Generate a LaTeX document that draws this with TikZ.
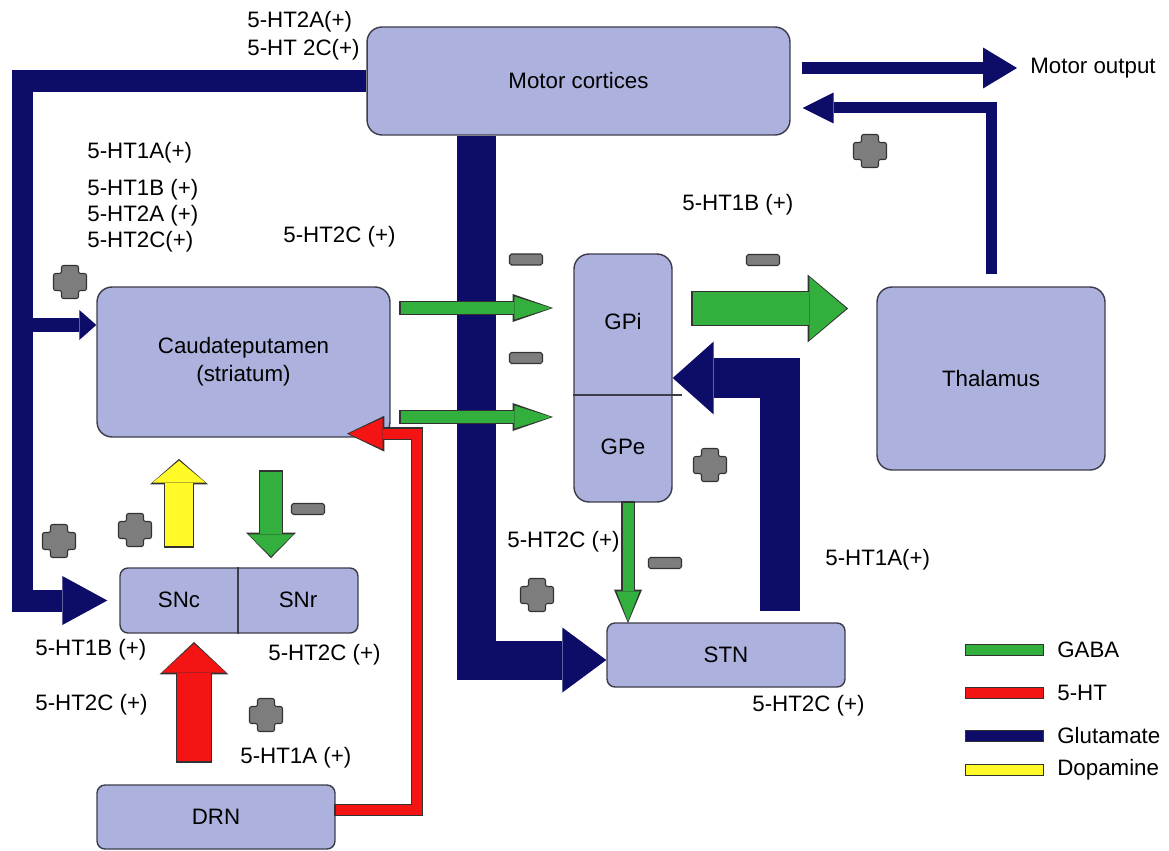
\documentclass[tikz,border=0pt]{standalone}
\usepackage{fontspec}
\setmainfont{Liberation Sans}
\usetikzlibrary{arrows.meta,calc}
\definecolor{boxfill}{RGB}{172,178,221}
\definecolor{boxline}{RGB}{60,60,75}
\definecolor{outl}{RGB}{50,50,50}
\definecolor{glu}{RGB}{13,13,105}
\definecolor{gaba}{RGB}{50,175,60}
\definecolor{sero}{RGB}{245,20,20}
\definecolor{dopa}{RGB}{255,250,40}
\definecolor{sgray}{RGB}{125,125,125}
\newcommand{\fatarrow}[7]{%
 \pgfmathsetmacro\faW{#2+0.05}%
 \pgfmathsetmacro\faL{#3+0.07}%
 \pgfmathsetmacro\faT{#4+0.1}%
 \pgfmathsetmacro\faS{#5-0.025}%
 \pgfmathsetmacro\faE{#6-0.035}%
 \draw[line width=\faW cm, draw=outl, -{Triangle[length=\faL cm, width=\faT cm, line width=0pt]}, shorten <=\faS cm, shorten >=\faE cm] #7;
 \draw[line width=#2cm, draw=#1, -{Triangle[length=#3cm, width=#4cm, line width=0pt]}, shorten <=#5cm, shorten >=#6cm] #7;
}
\tikzset{
 box/.style={draw=boxline, fill=boxfill, rounded corners=0.3cm, line width=0.8pt, inner sep=0pt, align=center},
 smallbox/.style={box, rounded corners=0.16cm, minimum width=4.76cm, minimum height=1.28cm},
 lbl/.style={anchor=west, inner sep=0pt},
 minus/.style={draw=outl, fill=sgray, line width=0.6pt, rounded corners=1pt, minimum width=0.66cm, minimum height=0.22cm, inner sep=0pt},
 legbar/.style={draw=outl, line width=0.5pt, minimum width=1.56cm, minimum height=0.22cm, inner sep=0pt},
 plussign/.pic={\filldraw[fill=sgray, draw=outl, line width=0.6pt, rounded corners=1.2pt]
   (-8.5,-16.5) -- (8.5,-16.5) -- (8.5,-8.5) -- (16.5,-8.5) -- (16.5,8.5) -- (8.5,8.5) -- (8.5,16.5) -- (-8.5,16.5) -- (-8.5,8.5) -- (-16.5,8.5) -- (-16.5,-8.5) -- (-8.5,-8.5) -- cycle;}
}
\begin{document}
\begin{tikzpicture}[x=0.02cm, y=-0.02cm, font=\fontsize{12.7}{16}\selectfont]
\useasboundingbox (0,0) rectangle (1169,851);

% boxes
\node[box, minimum width=8.46cm, minimum height=2.16cm] (mc) at (578.5,81) {Motor cortices};
\node[box, minimum width=5.86cm, minimum height=3.0cm] (cp) at (243.5,362) {Caudateputamen\\(striatum)};
\node[box, minimum width=1.96cm, minimum height=4.96cm] (gp) at (623,378) {};
\node (gpi) at (623,322) {GPi};
\node (gpe) at (623,447) {GPe};
\node[box, minimum width=4.56cm, minimum height=3.66cm] (th) at (991,378.5) {Thalamus};
\node[smallbox, minimum height=1.3cm] (sn) at (239,600.5) {};
\node (snc) at (179,600) {SNc};
\node (snr) at (298,600) {SNr};
\node[smallbox] (stn) at (726,655) {STN};
\node[smallbox] (drn) at (216,817) {DRN};
\node[lbl] (mo) at (1030,68) {Motor output};

% helper coordinates
\coordinate (lx) at (22.5,0);
\coordinate (cy) at (0,325);
\coordinate (vx) at (476.5,0);
\coordinate (sy) at (0,660);
\coordinate (ux) at (780,0);
\coordinate (ty) at (0,108);
\coordinate (oy) at (0,68);
\coordinate (gy) at (0,308.5);
\coordinate (g1y) at (0,308);
\coordinate (g2y) at (0,417);
\coordinate (g3x) at (628,0);
\coordinate (g4x) at (271,0);
\coordinate (y1x) at (179,0);
\coordinate (r1x) at (194,0);
\coordinate (ry) at (0,810);
\coordinate (rx) at (417,0);
\coordinate (rt) at ($(cp.south east)+(-42,-4)$);
\coordinate (dv) at (238,0);
\coordinate (dh) at (0,395);
\coordinate (dhe) at (682,395);

% glutamate connectors
\draw[glu, line width=0.44cm, -{Triangle[length=0.9cm, width=0.98cm, line width=0pt]}, shorten >=0.24cm]
  (mc.west) -| (lx |- sn.west) -- (sn.west);
\draw[glu, line width=0.28cm, -{Triangle[length=0.34cm, width=0.6cm, line width=0pt]}]
  (lx |- cy) -- (cp.west |- cy);
\draw[glu, line width=0.78cm, -{Triangle[length=0.88cm, width=1.3cm, line width=0pt]}]
  (vx |- mc.south) |- (stn.west |- sy);
\draw[glu, line width=0.8cm, -{Triangle[length=0.82cm, width=1.46cm, line width=0pt]}, shorten <=0.22cm]
  (ux |- stn.north) |- (gp.east);
\draw[glu, line width=0.22cm, -{Triangle[length=0.62cm, width=0.62cm, line width=0pt]}, shorten <=0.24cm, shorten >=0.24cm]
  (th.north) |- (mc.east |- ty);
\draw[glu, line width=0.24cm, -{Triangle[length=0.68cm, width=0.82cm, line width=0pt]}, shorten <=0.22cm, shorten >=0.26cm]
  (mc.east |- oy) -- (mo.west);

% GABA connectors
\fatarrow{gaba}{0.66}{0.74}{1.26}{0.4}{0.6}{(gp.east |- gy) -- (th.west |- gy)}
\fatarrow{gaba}{0.24}{0.74}{0.46}{0.2}{0.44}{(cp.east |- g1y) -- (gp.west |- g1y)}
\fatarrow{gaba}{0.24}{0.74}{0.46}{0.2}{0.44}{(cp.east |- g2y) -- (gp.west |- g2y)}
\fatarrow{gaba}{0.22}{0.6}{0.46}{0}{0.02}{(g3x |- gp.south) -- (g3x |- stn.north)}
\fatarrow{gaba}{0.44}{0.44}{0.9}{0.68}{0.22}{(g4x |- cp.south) -- (g4x |- sn.north)}

% dopamine
\fatarrow{dopa}{0.56}{0.44}{1.06}{0.42}{0.46}{(y1x |- sn.north) -- (y1x |- cp.south)}

% 5-HT
\fatarrow{sero}{0.68}{0.58}{1.28}{0.46}{0.2}{(r1x |- drn.north) -- (r1x |- sn.south)}
\fatarrow{sero}{0.2}{0.68}{0.62}{0}{0}{(drn.east |- ry) -| (rx |- rt) -- (rt)}

% dividers
\draw[boxline, line width=0.8pt] (gp.west |- dh) -- (dhe);
\draw[boxline, line width=0.8pt] (dv |- sn.north) -- (dv |- sn.south);

% signs
\pic at (870,151) {plussign};
\pic at (70,282) {plussign};
\pic at (135,530) {plussign};
\pic at (59,541) {plussign};
\pic at (266,715) {plussign};
\pic at (537,595) {plussign};
\pic at (710,465) {plussign};
\node[minus] (m1) at (526,259.5) {};
\node[minus] (m2) at (526,358) {};
\node[minus] (m3) at (763,260) {};
\node[minus] (m4) at (308,509) {};
\node[minus] (m5) at (665,563) {};

% receptor labels
\node[lbl] (l1) at (247,22) {5-HT2A(+)};
\node[lbl] (l2) at (247,50) {5-HT 2C(+)};
\node[lbl] (l3) at (87,153) {5-HT1A(+)};
\node[lbl] (l4) at (87,190) {5-HT1B (+)};
\node[lbl] (l5) at (87,216) {5-HT2A (+)};
\node[lbl] (l6) at (87,242) {5-HT2C(+)};
\node[lbl] (l7) at (283,237) {5-HT2C (+)};
\node[lbl] (l8) at (682,205) {5-HT1B (+)};
\node[lbl] (l9) at (507,542) {5-HT2C (+)};
\node[lbl] (l10) at (825,560) {5-HT1A(+)};
\node[lbl] (l11) at (752,706) {5-HT2C (+)};
\node[lbl] (l12) at (35,650) {5-HT1B (+)};
\node[lbl] (l13) at (268,655) {5-HT2C (+)};
\node[lbl] (l14) at (35,705) {5-HT2C (+)};
\node[lbl] (l15) at (240,758) {5-HT1A (+)};

% legend
\node[legbar, fill=gaba] (lb1) at (1004,650) {};
\node[legbar, fill=sero] (lb2) at (1004,693) {};
\node[legbar, fill=glu] (lb3) at (1004,736) {};
\node[legbar, fill=dopa] (lb4) at (1004,770) {};
\node[lbl] (lt1) at (1057,650) {GABA};
\node[lbl] (lt2) at (1057,693) {5-HT};
\node[lbl] (lt3) at (1057,736) {Glutamate};
\node[lbl] (lt4) at (1057,770) {Dopamine};
\end{tikzpicture}
\end{document}
